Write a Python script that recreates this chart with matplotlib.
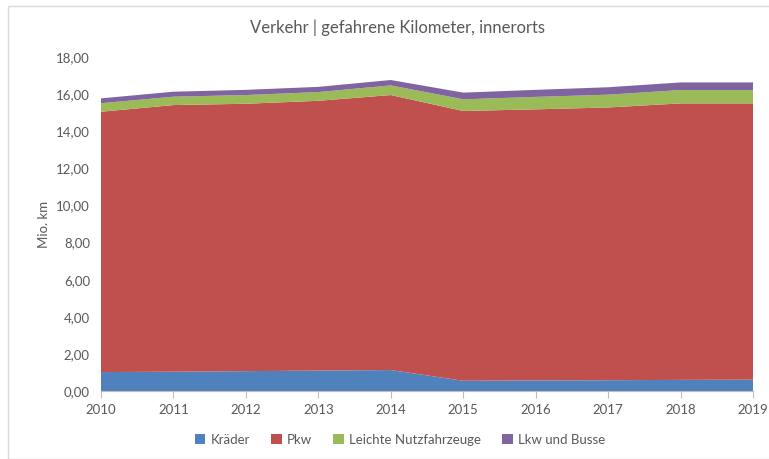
import matplotlib
matplotlib.use("Agg")
import matplotlib.pyplot as plt
from matplotlib.patches import Rectangle, Patch
from matplotlib.ticker import FuncFormatter

years = [2010, 2011, 2012, 2013, 2014, 2015, 2016, 2017, 2018, 2019]
kraeder = [1.02, 1.04, 1.07, 1.10, 1.13, 0.55, 0.57, 0.58, 0.60, 0.61]
pkw = [14.03, 14.37, 14.41, 14.54, 14.82, 14.54, 14.61, 14.70, 14.90, 14.89]
leichte_nfz = [0.46, 0.45, 0.47, 0.47, 0.52, 0.63, 0.67, 0.69, 0.72, 0.72]
lkw_busse = [0.26, 0.27, 0.28, 0.28, 0.29, 0.36, 0.38, 0.40, 0.41, 0.41]
series_names = ["Kräder", "Pkw", "Leichte Nutzfahrzeuge", "Lkw und Busse"]
colors = ["#4F81BD", "#C0504D", "#9BBB59", "#8064A2"]

plt.rcParams['font.family'] = ['Lato', 'DejaVu Sans']
txt = "#595959"

fig = plt.figure(figsize=(7.69, 4.59), dpi=100)
fig.patches.append(Rectangle((8/769, 0), 1, 1 - 6/459, transform=fig.transFigure,
                             fill=False, edgecolor="#D9D9D9", linewidth=1.0))
ax = fig.add_axes([101/769, 1 - 391/459, (753 - 101)/769, (391 - 57)/459])
ax.stackplot(years, kraeder, pkw, leichte_nfz, lkw_busse, colors=colors, linewidth=0)
ax.set_xlim(2010, 2019)
ax.set_ylim(0, 18)
ax.set_yticks(range(0, 19, 2))
ax.yaxis.set_major_formatter(FuncFormatter(lambda v, p: f"{v:.2f}".replace(".", ",")))
ax.set_xticks(years)
ax.set_xticklabels([str(y) for y in years])
for s in ["top", "right", "left"]:
    ax.spines[s].set_visible(False)
ax.spines["bottom"].set_color("#BFBFBF")
ax.tick_params(axis="y", length=0, labelsize=9.5, labelcolor=txt, pad=8)
ax.tick_params(axis="x", length=5, color="#BFBFBF", labelsize=9.5, labelcolor=txt, pad=4)
ax.set_ylabel("Mio. km", fontsize=9.5, color=txt, labelpad=4)
fig.text(398/769, 1 - 28/459, "Verkehr | gefahrene Kilometer, innerorts",
         ha="center", va="center", fontsize=12, color=txt)
handles = [Patch(facecolor=c) for c in colors]
fig.legend(handles, series_names, loc="center", bbox_to_anchor=(400/769, 1 - 440/459),
           ncol=4, frameon=False, fontsize=9.5, labelcolor=txt, handlelength=0.8,
           handleheight=0.8, handletextpad=0.4, columnspacing=1.6)
fig.savefig("out.png", dpi=100)
